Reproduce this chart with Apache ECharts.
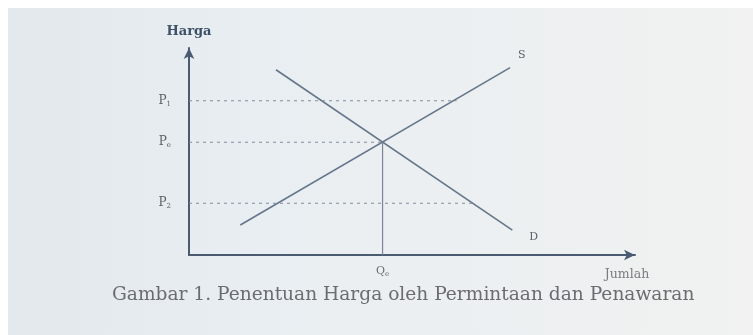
<!DOCTYPE html>
<html>
<head>
<meta charset="utf-8">
<script src="https://cdn.jsdelivr.net/npm/echarts@6/dist/echarts.min.js"></script>
<style>
html, body { margin: 0; padding: 0; background: #ffffff; }
#paper {
  position: absolute; left: 8px; top: 8px; width: 745px; height: 327px;
  background: linear-gradient(90deg, #e3e8ec 0%, #e9eef2 35%, #edf0f1 70%, #f1f2f1 100%);
}
#chart { position: absolute; left: 0; top: 0; width: 753px; height: 335px; }
</style>
</head>
<body>
<div id="paper"></div>
<div id="chart"></div>
<script>
// kurva penawaran (S) dan permintaan (D)
var supplyPoints = [[1.15, 1.45], [7.2, 9.05]];
var demandPoints = [[1.95, 8.95], [7.25, 1.2]];
var curveNames = ['S', 'D'];

// tingkat harga P1, Pe, P2 dan ujung garis putus-putus
var priceLevels = [7.45, 5.45, 2.5];
var priceSubs = ['1', 'e', '2'];
var dashEnds = [6.0, 4.34, 6.4];

// jumlah keseimbangan
var qe = 4.34;
var qeSub = 'e';

var axisColor = '#4a5a70';
var curveColor = '#66768a';
var dashColor = '#818d9c';

function curve(name, points, offset) {
	return {
		name: name,
		type: 'line',
		symbol: 'none',
		lineStyle: { color: curveColor, width: 1.6 },
		endLabel: {
			show: true,
			formatter: name,
			offset: offset,
			fontFamily: 'DejaVu Serif',
			fontSize: 11,
			color: '#5c6068'
		},
		data: points
	};
}

var series = [];
series.push(curve(curveNames[0], supplyPoints, [0, -13]));
series.push(curve(curveNames[1], demandPoints, [9, 7]));

for (var i = 0; i < priceLevels.length; i++) {
	series.push({
		type: 'line',
		symbol: 'none',
		lineStyle: { color: dashColor, width: 1.1, type: [3, 4] },
		data: [[0, priceLevels[i]], [dashEnds[i], priceLevels[i]]]
	});
}

series.push({
	type: 'line',
	symbol: 'none',
	lineStyle: { color: '#7a8696', width: 1.2 },
	data: [[qe, 0], [qe, priceLevels[1]]]
});

var option = {
	animation: false,
	backgroundColor: 'transparent',
	title: {
		text: 'Gambar 1. Penentuan Harga oleh Permintaan dan Penawaran',
		left: 107,
		top: 281,
		textStyle: {
			fontFamily: 'DejaVu Serif',
			fontWeight: 'normal',
			fontSize: 18.6,
			color: '#6a6c70'
		}
	},
	grid: { left: 189, right: 118, top: 48, bottom: 80 },
	xAxis: {
		type: 'value',
		min: 0,
		max: 10,
		name: 'Jumlah',
		nameLocation: 'end',
		nameGap: -8,
		nameTextStyle: {
			fontFamily: 'DejaVu Serif',
			fontSize: 12.5,
			color: '#7a7c80',
			align: 'center',
			verticalAlign: 'top',
			padding: [13, 0, 0, 0]
		},
		splitLine: { show: false },
		axisTick: { show: false },
		axisLine: {
			show: true,
			symbol: ['none', 'arrow'],
			symbolSize: [8, 11],
			lineStyle: { color: axisColor, width: 2 }
		},
		axisLabel: {
			customValues: [qe],
			margin: 10,
			formatter: function () { return '{p|Q}{s|' + qeSub + '}'; },
			rich: {
				p: { fontFamily: 'DejaVu Serif', fontSize: 11, color: '#6a6c70' },
				s: { fontFamily: 'DejaVu Serif', fontSize: 7, color: '#6a6c70', verticalAlign: 'bottom', padding: [6, 0, 0, 0] }
			}
		}
	},
	yAxis: {
		type: 'value',
		min: 0,
		max: 10,
		name: 'Harga',
		nameLocation: 'end',
		nameGap: 10,
		nameTextStyle: {
			fontFamily: 'DejaVu Serif',
			fontWeight: 'bold',
			fontSize: 13,
			color: '#3e5068'
		},
		splitLine: { show: false },
		axisTick: { show: false },
		axisLine: {
			show: true,
			symbol: ['none', 'arrow'],
			symbolSize: [8, 11],
			lineStyle: { color: axisColor, width: 2 }
		},
		axisLabel: {
			customValues: priceLevels,
			margin: 18,
			formatter: function (v) {
				var idx = priceLevels.indexOf(v);
				return '{p|P}{s|' + priceSubs[idx] + '}';
			},
			rich: {
				p: { fontFamily: 'DejaVu Serif', fontSize: 12, color: '#5c5e62' },
				s: { fontFamily: 'DejaVu Serif', fontSize: 7, color: '#5c5e62', verticalAlign: 'bottom', padding: [6, 0, 0, 0] }
			}
		}
	},
	series: series
};

var chart = echarts.init(document.getElementById('chart'));
chart.setOption(option);
</script>
</body>
</html>
